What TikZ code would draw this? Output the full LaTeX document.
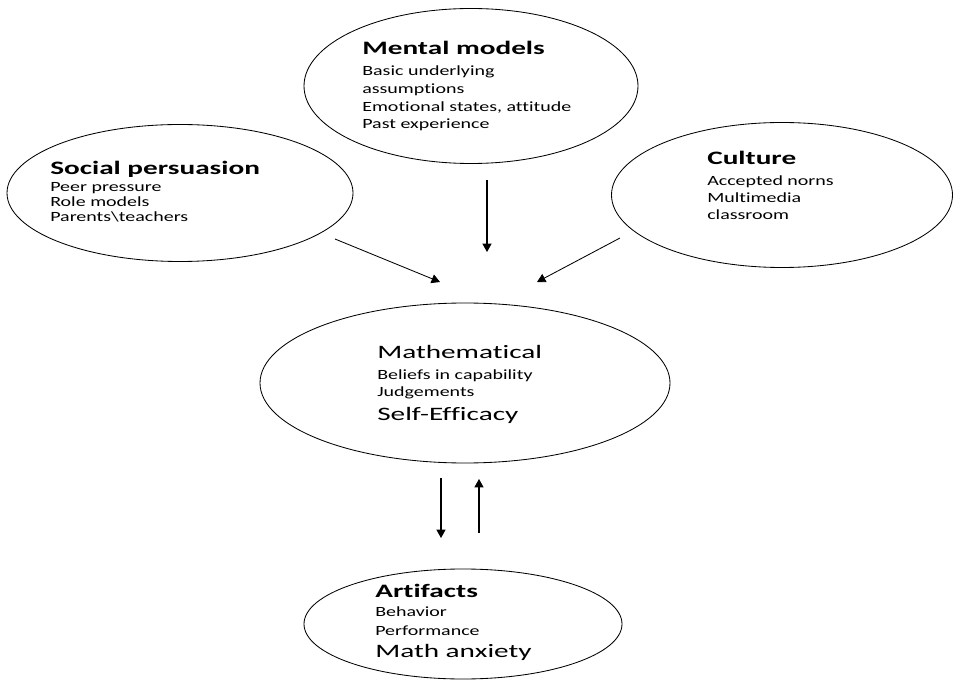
\documentclass[tikz,border=0pt]{standalone}
\usepackage{fontspec}
\setmainfont{Carlito}[FakeStretch=1.42, Ligatures=NoCommon]
\newfontfamily\headfam{Carlito}[FakeStretch=1.54, Ligatures=NoCommon]
\usetikzlibrary{shapes.geometric,arrows.meta}

\newcommand{\headfont}{\headfam\fontsize{13.5}{16}\selectfont\bfseries}
\newcommand{\bigfont}{\headfam\fontsize{13.5}{16}\selectfont}

\tikzset{
  oval/.style={draw, ellipse, inner sep=0pt, line width=0.6pt},
  head/.style={anchor=base west, inner sep=0pt, font=\headfont},
  lines/.style={anchor=base west, inner sep=0pt, align=left},
  flow/.style={-{Triangle[length=6pt,width=6.5pt]}, line width=0.8pt}
}

\begin{document}
\begin{tikzpicture}[x=0.025cm, y=-0.025cm]
  % --- one unit = one pixel of the 954 x 682 frame
  \def\u{0.025cm}
  \useasboundingbox (0,0) rectangle (954,682);

  %---------------------------------------
  % the five ovals
  \node[oval, minimum width={334*\u}, minimum height={155*\u}] (mental) at (471,86) {};
  \node[oval, minimum width={346*\u}, minimum height={137*\u}] (social) at (180,193) {};
  \node[oval, minimum width={341*\u}, minimum height={145*\u}] (culture) at (782,195) {};
  \node[oval, minimum width={410*\u}, minimum height={160*\u}] (efficacy) at (465,383) {};
  \node[oval, minimum width={318*\u}, minimum height={110*\u}] (artifacts) at (463,624) {};

  %---------------------------------------
  % texts (multi-line blocks sit on the baseline of their last line)
  \node[head] (mentalT) at (362,55) {Mental models};
  \node[lines, font=\fontsize{10}{12.6}\selectfont] (mentalB) at (362,128.8)
    {Basic underlying\\assumptions\\Emotional states, attitude\\Past experience};

  \node[head] (socialT) at (50,174.5) {Social persuasion};
  \node[lines, font=\fontsize{10}{10.7}\selectfont] (socialB) at (50,221.5)
    {Peer pressure\\Role models\\Parents\textbackslash teachers};

  \node[head] (cultureT) at (707,165) {Culture};
  \node[lines, font=\fontsize{10}{12.1}\selectfont] (cultureB) at (707,220)
    {Accepted norns\\Multimedia\\classroom};

  \node[head, font=\bigfont] (efficacyT) at (377,358.5) {Mathematical};
  \node[lines, font=\fontsize{10}{12.1}\selectfont] (efficacyB) at (377,396.5)
    {Beliefs in capability\\Judgements};
  \node[head, font=\bigfont] (efficacyE) at (377,420) {Self-Efficacy};

  \node[head] (artifactsT) at (375,597) {Artifacts};
  \node[lines, font=\fontsize{10}{13.5}\selectfont] (artifactsB) at (375,635.5)
    {Behavior\\Performance};
  \node[head, font=\bigfont] (artifactsE) at (375,657) {Math anxiety};

  %---------------------------------------
  % arrow ends
  \coordinate (mentalS) at (487,180);
  \coordinate (mentalE) at (487,252);
  \coordinate (socialS) at (335,239);
  \coordinate (socialE) at (440,282);
  \coordinate (cultureS) at (620,238);
  \coordinate (cultureE) at (537,282);
  \coordinate (downS) at (441,478);
  \coordinate (downE) at (441,538);
  \coordinate (upS) at (479,533);
  \coordinate (upE) at (479,479);

  \draw[flow] (mentalS) -- (mentalE);
  \draw[flow, line width=0.6pt] (socialS) -- (socialE);
  \draw[flow, line width=0.6pt] (cultureS) -- (cultureE);
  \draw[flow] (downS) -- (downE);
  \draw[flow] (upS) -- (upE);
\end{tikzpicture}
\end{document}
